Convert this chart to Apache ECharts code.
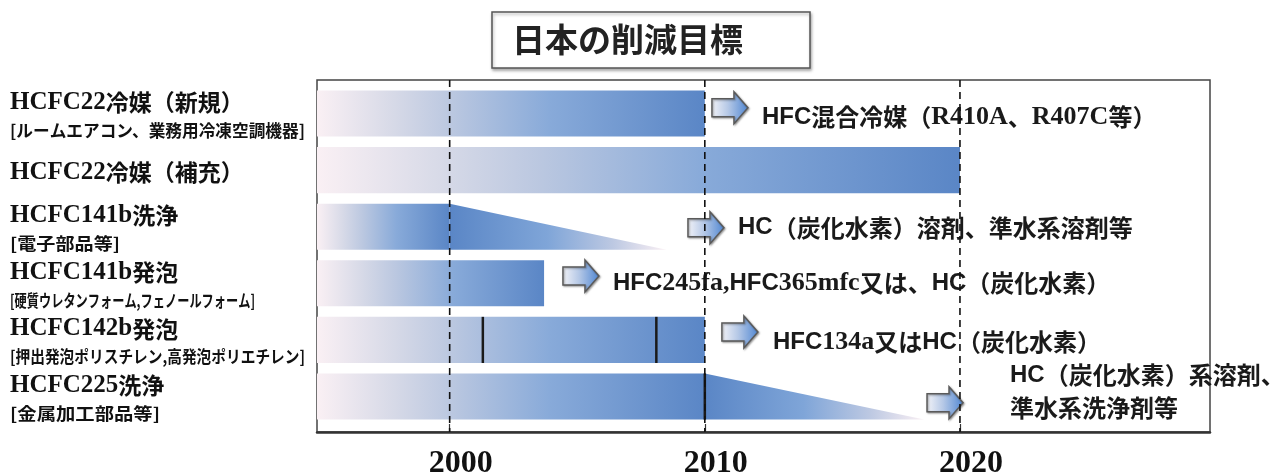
<!DOCTYPE html>
<html>
<head>
<meta charset="utf-8">
<script src="https://cdn.jsdelivr.net/npm/echarts@6/dist/echarts.min.js"></script>
<style>
  html, body { margin: 0; padding: 0; background: #fff; }
  #chart { width: 1272px; height: 473px; }
</style>
</head>
<body>
<div id="chart"></div>
<script>
// ---- data ----
const categories = ['HCFC22冷媒（新規）', 'HCFC22冷媒（補充）', 'HCFC141b洗浄', 'HCFC141b発泡', 'HCFC142b発泡', 'HCFC225洗浄'];
const subLabels = ['[ルームエアコン、業務用冷凍空調機器]', '', '[電子部品等]', '[硬質ウレタンフォーム,フェノールフォーム]', '[押出発泡ポリスチレン,高発泡ポリエチレン]', '[金属加工部品等]'];
// year until which the substance is used at full level
const useEnd = [2010, 2020, 2000, 2003.7, 2010, 2010];
// year where the tapering reduction reaches zero (0 = no taper)
const taperEnd = [0, 0, 2008.5, 0, 0, 2018.6];
// intermediate milestones drawn as black marks on the bar
const milestones = [[], [], [], [], [2001.3, 2008.1], [2010]];
// substitutes
const substitutes = ['HFC混合冷媒（R410A、R407C等）', '', 'HC（炭化水素）溶剤、準水系溶剤等', 'HFC245fa,HFC365mfc又は、HC（炭化水素）', 'HFC134a又はHC（炭化水素）', 'HC（炭化水素）系溶剤、\n準水系洗浄剤等'];
// arrow / note anchors: [year, row]
const arrowAt = [[2010.28, -0.1], null, [2009.34, 2.02], [2004.44, 2.87], [2010.67, 3.86], [2018.71, 5.11]];
const noteAt = [[2012.24, 0.06], null, [2011.3, 2.02], [2006.4, 3.0], [2012.67, 4.04], [2021.96, 4.91]];
const yearTicks = [2000, 2010, 2020];

// ---- layout / style ----
const X_MIN = 1994.8, X_MAX = 2029.8;
const Y_MIN = -0.592, Y_MAX = 5.627;
const BAR_THICKNESS = 0.815;
const SUB_WIDTH = [295, 0, 110, 245, 295, 150];

const SERIF = '"Liberation Serif", "Times New Roman", serif';
const SANS = '"Liberation Sans", Arial, sans-serif';
const JP = '"Noto Sans CJK JP", sans-serif';

const BAR_STOPS = [[0, '#faf0f4'], [0.2, '#d6d9e7'], [0.35, '#bac7e0'], [0.6, '#88aad9'], [1, '#5a86c6']];
const TAPER_STOPS = [[0, '#5a86c6'], [0.45, '#7fa5d8'], [0.75, '#bcc8e2'], [1, '#faf0f4']];
const ARROW_STOPS = [[0, '#f4f4f8'], [0.45, '#b5c8e6'], [1, '#4f86d2']];

function grad(stops) {
  return new echarts.graphic.LinearGradient(0, 0, 1, 0, stops.map(([o, c]) => ({ offset: o, color: c })));
}

const measureCtx = document.createElement('canvas').getContext('2d');
function textWidth(text, font) {
  measureCtx.font = font;
  return measureCtx.measureText(text).width;
}

// Split a note into sans "HFC"/"HC" runs, serif ASCII runs and Japanese runs
function noteRich(str) {
  return str.split('\n').map(line => {
    const toks = line.match(/HFC|HC|[\x21-\x7e]+?(?=HFC|HC|[^\x21-\x7e]|$)|[^\x21-\x7e]+/g) || [];
    return toks.map(t => {
      if (t === 'HFC' || t === 'HC') return '{s|' + t + '}';
      if (/^[\x21-\x7e]+$/.test(t)) return '{r|' + t + '}';
      return '{j|' + t + '}';
    }).join('');
  }).join('\n');
}
// Category name: serif ASCII + Japanese
function nameRich(str) {
  const toks = str.match(/[\x21-\x7e]+|[^\x21-\x7e]+/g) || [];
  return toks.map(t => (/^[\x21-\x7e]+$/.test(t) ? '{e|' + t + '}' : '{k|' + t + '}')).join('');
}

// ---- render functions ----
function renderBar(params, api) {
  const row = api.value(0), end = api.value(1), taper = api.value(2);
  const a = api.coord([X_MIN, row]);
  const b = api.coord([end, row]);
  const h = api.size([0, BAR_THICKNESS])[1];
  const y0 = a[1] - h / 2;
  const kids = [{
    type: 'rect',
    shape: { x: a[0], y: y0, width: b[0] - a[0], height: h },
    style: { fill: grad(BAR_STOPS) }
  }];
  if (taper > end) {
    const t = api.coord([taper, row]);
    kids.push({
      type: 'polygon',
      shape: { points: [[b[0], y0], [t[0], y0 + h], [b[0], y0 + h]] },
      style: { fill: grad(TAPER_STOPS) }
    });
  }
  return { type: 'group', children: kids };
}

function renderMilestone(params, api) {
  const p = api.coord([api.value(0), api.value(1)]);
  const h = api.size([0, BAR_THICKNESS])[1];
  return {
    type: 'line',
    shape: { x1: p[0], y1: p[1] - h / 2, x2: p[0], y2: p[1] + h / 2 },
    style: { stroke: '#1a1a1a', lineWidth: 2.5 }
  };
}

function renderYearLine(params, api) {
  const t = api.coord([api.value(0), Y_MIN]);
  const b = api.coord([api.value(0), Y_MAX]);
  return {
    type: 'line',
    shape: { x1: t[0], y1: t[1], x2: b[0], y2: b[1] },
    style: { stroke: '#111', lineWidth: 1.6, lineDash: [7, 5] }
  };
}

function renderArrow(params, api) {
  const p = api.coord([api.value(0), api.value(1)]);
  const x = p[0], y = p[1];
  return {
    type: 'polygon',
    shape: { points: [[x, y - 9], [x + 22, y - 9], [x + 22, y - 16], [x + 36, y], [x + 22, y + 16], [x + 22, y + 9], [x, y + 9]] },
    style: {
      fill: grad(ARROW_STOPS), stroke: '#5a5a5a', lineWidth: 1.5,
      shadowColor: 'rgba(0,0,0,0.35)', shadowBlur: 2, shadowOffsetX: 1, shadowOffsetY: 1
    }
  };
}

function renderNote(params, api) {
  const p = api.coord([api.value(0), api.value(1)]);
  const idx = api.value(2);
  const fs = 24;
  return {
    type: 'text',
    x: p[0], y: p[1],
    style: {
      text: noteRich(substitutes[idx]),
      align: 'left', verticalAlign: 'middle',
      fill: '#1a1a1a',
      lineHeight: 33,
      rich: {
        s: { fontFamily: SANS, fontWeight: 'bold', fontSize: fs, fill: '#1a1a1a', lineHeight: 33 },
        r: { fontFamily: SERIF, fontWeight: 'bold', fontSize: fs + 2, fill: '#1a1a1a', lineHeight: 33 },
        j: { fontFamily: JP, fontWeight: 'bold', fontSize: fs, fill: '#1a1a1a', lineHeight: 33 }
      }
    }
  };
}

function renderName(params, api) {
  const i = api.value(1);
  const yc = api.coord([X_MIN, i])[1];
  const hasSub = subLabels[i] !== '';
  const kids = [{
    type: 'text',
    x: 10, y: hasSub ? yc - 11 : yc + 2,
    style: {
      text: nameRich(categories[i]),
      align: 'left', verticalAlign: 'middle',
      fill: '#111',
      rich: {
        e: { fontFamily: SERIF, fontWeight: 'bold', fontSize: 25, fill: '#111' },
        k: { fontFamily: JP, fontWeight: 'bold', fontSize: 23, fill: '#111' }
      }
    }
  }];
  if (hasSub) {
    const font = 'bold 17px ' + JP;
    const w = textWidth(subLabels[i], font);
    kids.push({
      type: 'text',
      x: 10, y: yc + 17,
      scaleX: SUB_WIDTH[i] / w,
      style: {
        text: subLabels[i], align: 'left', verticalAlign: 'middle',
        fill: '#111', fontFamily: JP, fontWeight: 'bold', fontSize: 17
      }
    });
  }
  return { type: 'group', children: kids };
}

// ---- chart ----
const chart = echarts.init(document.getElementById('chart'), null, { renderer: 'canvas' });

const barData = categories.map((c, i) => [i, useEnd[i], taperEnd[i]]);
const milestoneData = [];
milestones.forEach((list, i) => list.forEach(y => milestoneData.push([y, i])));
const arrowData = arrowAt.filter(a => a).map(a => [a[0], a[1]]);
const noteData = [];
noteAt.forEach((n, i) => { if (n) noteData.push([n[0], n[1], i]); });
const nameData = categories.map((c, i) => [X_MIN, i]);

chart.setOption({
  animation: false,
  backgroundColor: '#fff',
  title: {
    text: '日本の削減目標',
    left: 492, top: 12,
    padding: [11, 67, 12, 20],
    backgroundColor: '#fff',
    borderColor: '#555', borderWidth: 1.5,
    shadowColor: 'rgba(0,0,0,0.3)', shadowBlur: 3, shadowOffsetX: 1, shadowOffsetY: 2,
    textStyle: { fontFamily: JP, fontWeight: 'bold', fontSize: 33, color: '#222', lineHeight: 33 }
  },
  grid: {
    left: 317, right: 62, top: 80, bottom: 41,
    outerBoundsMode: 'none', containLabel: false,
    show: true, borderColor: '#444', borderWidth: 1.5, backgroundColor: 'transparent'
  },
  xAxis: {
    type: 'value', min: X_MIN, max: X_MAX,
    splitLine: { show: false },
    axisLine: { show: true, onZero: false, lineStyle: { color: '#333', width: 2.5 } },
    axisTick: { show: true, inside: true, length: 8, customValues: yearTicks, lineStyle: { color: '#333', width: 1.2 } },
    axisLabel: {
      customValues: yearTicks, formatter: v => String(v), margin: 16,
      padding: [0, 0, 0, 22],
      fontFamily: SERIF, fontWeight: 'bold', fontSize: 32, color: '#111'
    }
  },
  yAxis: {
    type: 'value', min: Y_MIN, max: Y_MAX, inverse: true,
    show: false
  },
  series: [
    { type: 'custom', name: 'bars', renderItem: renderBar, data: barData, z: 2, encode: { x: 1, y: 0 } },
    { type: 'custom', name: 'milestones', renderItem: renderMilestone, data: milestoneData, z: 3, encode: { x: 0, y: 1 } },
    { type: 'custom', name: 'arrows', renderItem: renderArrow, data: arrowData, z: 4, encode: { x: 0, y: 1 } },
    { type: 'custom', name: 'notes', renderItem: renderNote, data: noteData, z: 4, encode: { x: 0, y: 1 } },
    { type: 'custom', name: 'names', renderItem: renderName, data: nameData, z: 4, encode: { x: 0, y: 1 } },
    { type: 'custom', name: 'years', renderItem: renderYearLine, data: yearTicks.map(y => [y]), z: 6, encode: { x: 0 } }
  ]
});
</script>
</body>
</html>
